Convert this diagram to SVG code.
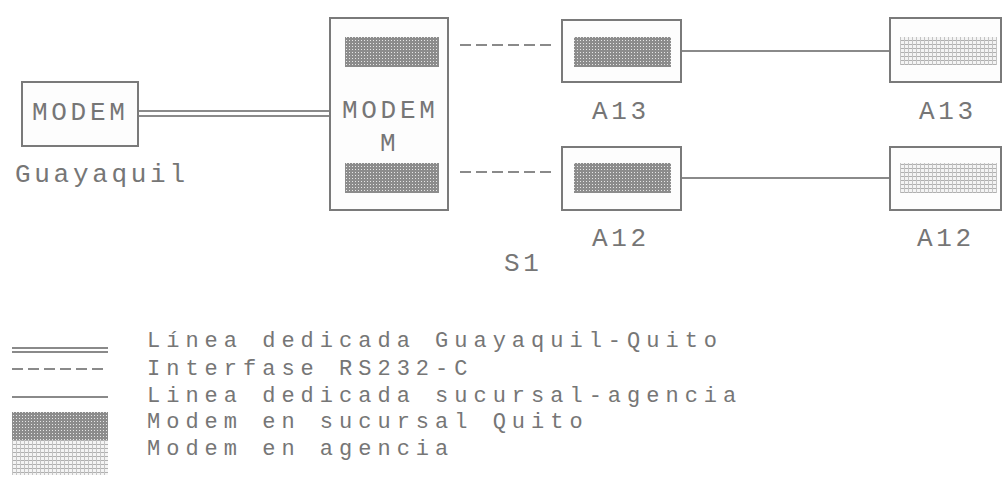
<svg xmlns="http://www.w3.org/2000/svg" width="1002" height="477" viewBox="0 0 1002 477">
<defs>
<pattern id="dark" width="3" height="3" patternUnits="userSpaceOnUse">
<rect width="3" height="3" fill="#8c8c8c"/>
<rect x="1" y="1" width="1" height="1" fill="#e6e6e6"/>
</pattern>
<pattern id="light" width="4" height="4" patternUnits="userSpaceOnUse">
<rect width="4" height="4" fill="#f4f4f4"/>
<rect x="0" y="0" width="4" height="1" fill="#b0b0b0"/>
<rect x="0" y="0" width="1" height="4" fill="#c4c4c4"/>
</pattern>
<style>
.box{fill:#fdfdfd;stroke:#7a7a7a;stroke-width:2}
.dk{fill:url(#dark)}
.lt{fill:url(#light)}
.ln{stroke:#8a8a8a;stroke-width:2;fill:none}
.ds{stroke:#8a8a8a;stroke-width:2;fill:none;stroke-dasharray:11 5}
.t{font-family:"Liberation Mono","DejaVu Sans Mono",monospace;font-size:26px;fill:#767676;letter-spacing:3.7px}
.lg{font-family:"Liberation Mono","DejaVu Sans Mono",monospace;font-size:22px;fill:#767676;letter-spacing:6px}
</style>
</defs>
<rect width="1002" height="477" fill="#ffffff"/>
<g id="connectors">
<line class="ln" x1="138" y1="111" x2="330" y2="111"/>
<line class="ln" x1="138" y1="116" x2="330" y2="116"/>
<line class="ds" x1="460" y1="45" x2="553" y2="45"/>
<line class="ds" x1="460" y1="172" x2="553" y2="172"/>
<line class="ln" x1="681" y1="51" x2="890" y2="51"/>
<line class="ln" x1="681" y1="178" x2="890" y2="178"/>
</g>
<g id="modem-guayaquil">
<rect class="box" x="22" y="82" width="116" height="64"/>
<text class="t" x="32" y="120">MODEM</text>
<text class="t" x="15" y="182">Guayaquil</text>
</g>
<g id="modem-m">
<rect class="box" x="330" y="18" width="118" height="192"/>
<rect class="dk" x="345" y="37" width="94" height="30"/>
<rect class="dk" x="345" y="163" width="94" height="30"/>
<text class="t" x="342" y="118">MODEM</text>
<text class="t" x="380" y="151">M</text>
</g>
<g id="a13-sucursal">
<rect class="box" x="562" y="20" width="119" height="62"/>
<rect class="dk" x="574" y="37" width="97" height="30"/>
<text class="t" x="592" y="119">A13</text>
</g>
<g id="a12-sucursal">
<rect class="box" x="562" y="147" width="119" height="63"/>
<rect class="dk" x="574" y="163" width="97" height="30"/>
<text class="t" x="592" y="246">A12</text>
</g>
<g id="a13-agencia">
<rect class="box" x="890" y="18" width="111" height="64"/>
<rect class="lt" x="900" y="37" width="97" height="28"/>
<text class="t" x="919" y="119">A13</text>
</g>
<g id="a12-agencia">
<rect class="box" x="890" y="147" width="111" height="63"/>
<rect class="lt" x="900" y="163" width="97" height="30"/>
<text class="t" x="917" y="246">A12</text>
</g>
<text class="t" x="504" y="271">S1</text>
<g id="legend">
<line class="ln" x1="12" y1="348" x2="108" y2="348"/>
<line class="ln" x1="12" y1="352" x2="108" y2="352"/>
<line class="ds" x1="12" y1="369" x2="108" y2="369"/>
<line class="ln" x1="12" y1="397" x2="108" y2="397"/>
<rect class="dk" x="12" y="412" width="96" height="28"/>
<rect class="lt" x="12" y="440" width="96" height="35"/>
<text class="lg" x="147" y="347">Línea dedicada Guayaquil-Quito</text>
<text class="lg" x="147" y="375">Interfase RS232-C</text>
<text class="lg" x="147" y="402">Linea dedicada sucursal-agencia</text>
<text class="lg" x="147" y="428">Modem en sucursal Quito</text>
<text class="lg" x="147" y="455">Modem en agencia</text>
</g>
</svg>
